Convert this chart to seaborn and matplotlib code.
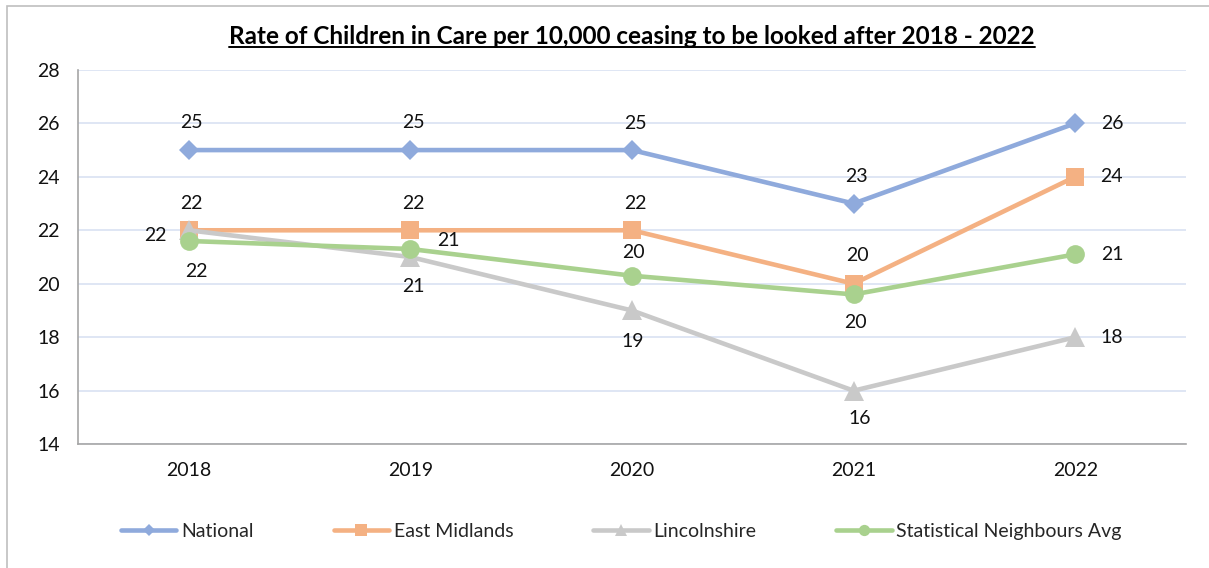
import matplotlib
matplotlib.use("Agg")
import matplotlib.pyplot as plt
from matplotlib.lines import Line2D
from matplotlib.patches import Rectangle
import pandas as pd
import seaborn as sns

years = [2018, 2019, 2020, 2021, 2022]
national = [25, 25, 25, 23, 26]
east_midlands = [22, 22, 22, 20, 24]
lincolnshire = [22, 21, 19, 16, 18]
stat_neighbours = [21.6, 21.3, 20.3, 19.6, 21.1]

series_names = ["National", "East Midlands", "Lincolnshire", "Statistical Neighbours Avg"]
series_values = [national, east_midlands, lincolnshire, stat_neighbours]
colors = ["#8FAADC", "#F4B183", "#C9C9C9", "#A9D18E"]
markers = ["D", "s", "^", "o"]
marker_sizes = [10.5, 13.5, 14, 13.5]

# label placement per point: offset of the label centre from the marker, in pixels
label_offsets = [
    [(3, 28), (3, 28), (3, 27), (3, 27), (37, 0)],
    [(3, 27), (3, 27), (3, 27), (4, 28), (36, 0)],
    [(-33, -5), (3, -29), (1, -31), (6, -28), (37, 0)],
    [(8, -31), (38, 8), (1, 23), (2, -28), (37, 0)],
]

FS = 14

sns.set_style("white")
plt.rcParams["font.family"] = ["Lato", "DejaVu Sans"]

df = pd.DataFrame({
    "Year": years * len(series_names),
    "Rate": sum(series_values, []),
    "Series": sum([[n] * len(years) for n in series_names], []),
})

fig = plt.figure(figsize=(12.09, 5.68), dpi=100)
ax = fig.add_axes([0.0645, 0.218, 0.9165, 0.659])

for name, col, mk, ms in zip(series_names, colors, markers, marker_sizes):
    sub = df[df["Series"] == name]
    sns.lineplot(data=sub, x="Year", y="Rate", ax=ax, color=col, marker=mk,
                 markersize=ms, markeredgewidth=0, linewidth=3.3, legend=False,
                 zorder=3)

for name, vals, offs in zip(series_names, series_values, label_offsets):
    for x, v, (dx, dy) in zip(years, vals, offs):
        ax.annotate(f"{round(v):d}", (x, v), xytext=(dx, dy), textcoords="offset pixels",
                    ha="center", va="center", fontsize=FS, color="#111111", zorder=5)

ax.set_xlim(2017.5, 2022.5)
ax.set_ylim(14, 28)
ax.set_yticks(range(14, 29, 2))
ax.set_xticks(years)
ax.set_xticks([y + 0.5 for y in [2017] + years], minor=True)
ax.tick_params(axis="x", which="major", length=0, pad=13, labelsize=FS, labelcolor="#111111")
ax.tick_params(axis="x", which="minor", length=7, width=1, color="#A6A6A6", direction="out")
ax.tick_params(axis="y", length=8, width=1, color="#A6A6A6", direction="out", pad=5,
               labelsize=FS, labelcolor="#111111")
ax.set_xlabel("")
ax.set_ylabel("")
ax.grid(axis="y", color="#D9E1F2", linewidth=1.2)
ax.grid(axis="x", visible=False)
ax.set_axisbelow(True)
for side in ("top", "right"):
    ax.spines[side].set_visible(False)
for side in ("left", "bottom"):
    ax.spines[side].set_color("#A6A6A6")
    ax.spines[side].set_linewidth(1.2)

# title with an underline drawn beneath the rendered text
title = fig.text(0.5228, 0.935, "Rate of Children in Care per 10,000 ceasing to be looked after 2018 - 2022",
                 ha="center", va="center", fontsize=17.5, fontweight="bold", color="#000000")
fig.canvas.draw()
bb = title.get_window_extent().transformed(fig.transFigure.inverted())
fig.add_artist(Line2D([bb.x0, bb.x1], [bb.y0 + 0.002, bb.y0 + 0.002], color="#000000",
                      linewidth=1.4, transform=fig.transFigure))

handles = [Line2D([0], [0], color=c, marker=m, markersize=ms * 0.6, markeredgewidth=0,
                  linewidth=3.3, solid_capstyle="round")
           for c, m, ms in zip(colors, markers, marker_sizes)]
fig.legend(handles, series_names, loc="center", bbox_to_anchor=(0.514, 0.065), ncol=4,
           frameon=False, fontsize=FS, handlelength=2.85, handletextpad=0.25,
           columnspacing=4.1)

# chart-area border
fig.add_artist(Rectangle((7 / 1209, -0.01), 1.0, 1 - 6 / 568 + 0.01, transform=fig.transFigure,
                         fill=False, edgecolor="#BFBFBF", linewidth=1.2))

fig.savefig("out.png", dpi=100)
